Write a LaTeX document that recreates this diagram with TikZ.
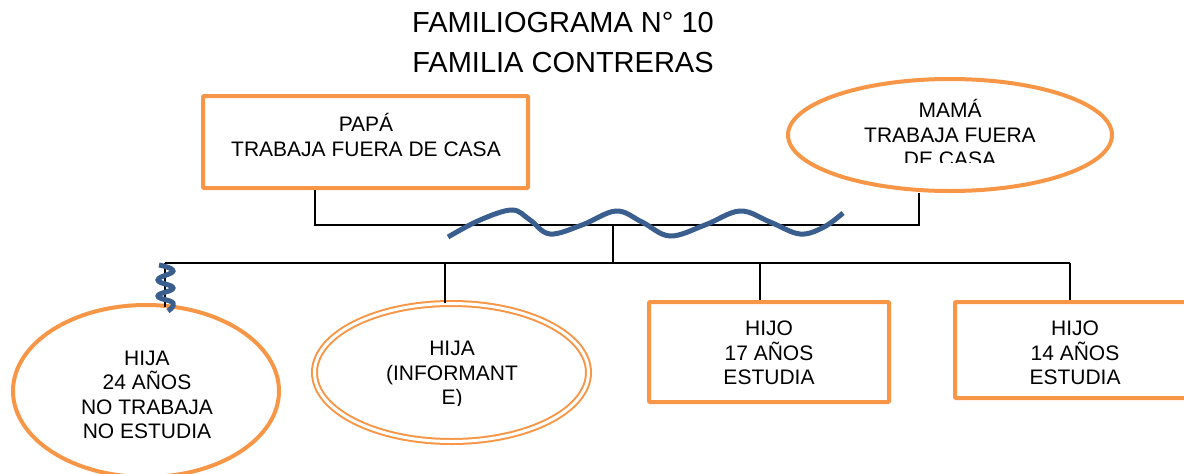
\documentclass[tikz,border=0pt]{standalone}
\usepackage{fontspec}
\setmainfont{Liberation Sans}
\usetikzlibrary{shapes.geometric}
\definecolor{famorange}{HTML}{F79646}
\definecolor{famblue}{HTML}{3A5F8E}
\tikzset{
  obox/.style={draw=famorange, line width=4pt, rounded corners=1pt, inner sep=0pt},
  oell/.style={draw=famorange, line width=4pt, ellipse, inner sep=0pt},
  odell/.style={draw=famorange, ellipse, inner sep=0pt, line width=2pt, double=white, double distance=3pt},
  lbl/.style={align=center, font=\fontsize{21}{24.5}\selectfont, inner sep=0pt},
  ttl/.style={align=center, font=\fontsize{29}{40}\selectfont, inner sep=0pt},
  rel/.style={draw=black, line width=1.6pt},
  wave/.style={draw=famblue, line width=5pt, line cap=butt},
}
\begin{document}
\begin{tikzpicture}[x=1pt, y=-1pt]
\useasboundingbox (0,0) rectangle (1184,474);
\clip (0,0) rectangle (1184,474);
% title
\node[ttl] (title) at (563,43) {FAMILIOGRAMA N° 10\\FAMILIA CONTRERAS};
% parents
\node[obox, minimum width=325pt, minimum height=92pt] (papa) at (365.5,142) {};
\node[lbl] (papat) at (366,135) {PAPÁ\\TRABAJA FUERA DE CASA};
\node[oell, minimum width=324pt, minimum height=112pt] (mama) at (950,135) {};
\begin{scope}
\clip (800,90) rectangle (1100,162);
\node[lbl] (mamat) at (950,133) {MAMÁ\\TRABAJA FUERA\\DE CASA};
\end{scope}
% couple line
\coordinate (pj) at (315,225);
\coordinate (mj) at (919,225);
\coordinate (cj) at (613,225);
\draw[rel] (315,0 |- papa.south) -- (pj) -- (mj) -- (919,0 |- mama.south);
% children
\node[oell, minimum width=266pt, minimum height=172pt] (hija1) at (146,391) {};
\node[lbl] (hija1t) at (147,395) {HIJA\\24 AÑOS\\NO TRABAJA\\NO ESTUDIA};
\node[odell, minimum width=274pt, minimum height=138pt] (hija2) at (451.5,372.5) {};
\begin{scope}
\clip (330,320) rectangle (570,405);
\node[lbl] (hija2t) at (452,375) {HIJA\\(INFORMANT\\E)};
\end{scope}
\node[obox, minimum width=240pt, minimum height=100pt] (hijo1) at (769,352) {};
\node[lbl] (hijo1t) at (769,353) {HIJO\\17 AÑOS\\ESTUDIA};
\node[obox, minimum width=240pt, minimum height=96pt] (hijo2) at (1075,350) {};
\node[lbl] (hijo2t) at (1075,353) {HIJO\\14 AÑOS\\ESTUDIA};
% children line
\coordinate (kj) at (613,263);
\coordinate (k1) at (165,263);
\coordinate (k2) at (445,263);
\coordinate (k3) at (760,263);
\coordinate (k4) at (1070,263);
\coordinate (s1) at (165,307);
\draw[rel] (cj) -- (kj);
\draw[rel] (k1) -- (k4);
\draw[rel] (k1) -- (s1);
\draw[rel] (k2) -- (445,0 |- hija2.north);
\draw[rel] (k3) -- (760,0 |- hijo1.north);
\draw[rel] (k4) -- (1070,0 |- hijo2.north);
% conflict wave between parents
\draw[wave] plot[smooth, tension=0.6] coordinates {(448,237) (480,220) (512,210) (530,220) (550,234) (582,225) (616,211) (642,222) (670,236) (705,225) (740,211) (770,222) (800,234) (824,227) (843,213)};
% distance spring to eldest daughter
\draw[wave, line width=5pt] plot[smooth, tension=0.8] coordinates {(159,265) (173,271) (158,280) (173,288) (158,296) (173,303) (168,311)};
\end{tikzpicture}
\end{document}
